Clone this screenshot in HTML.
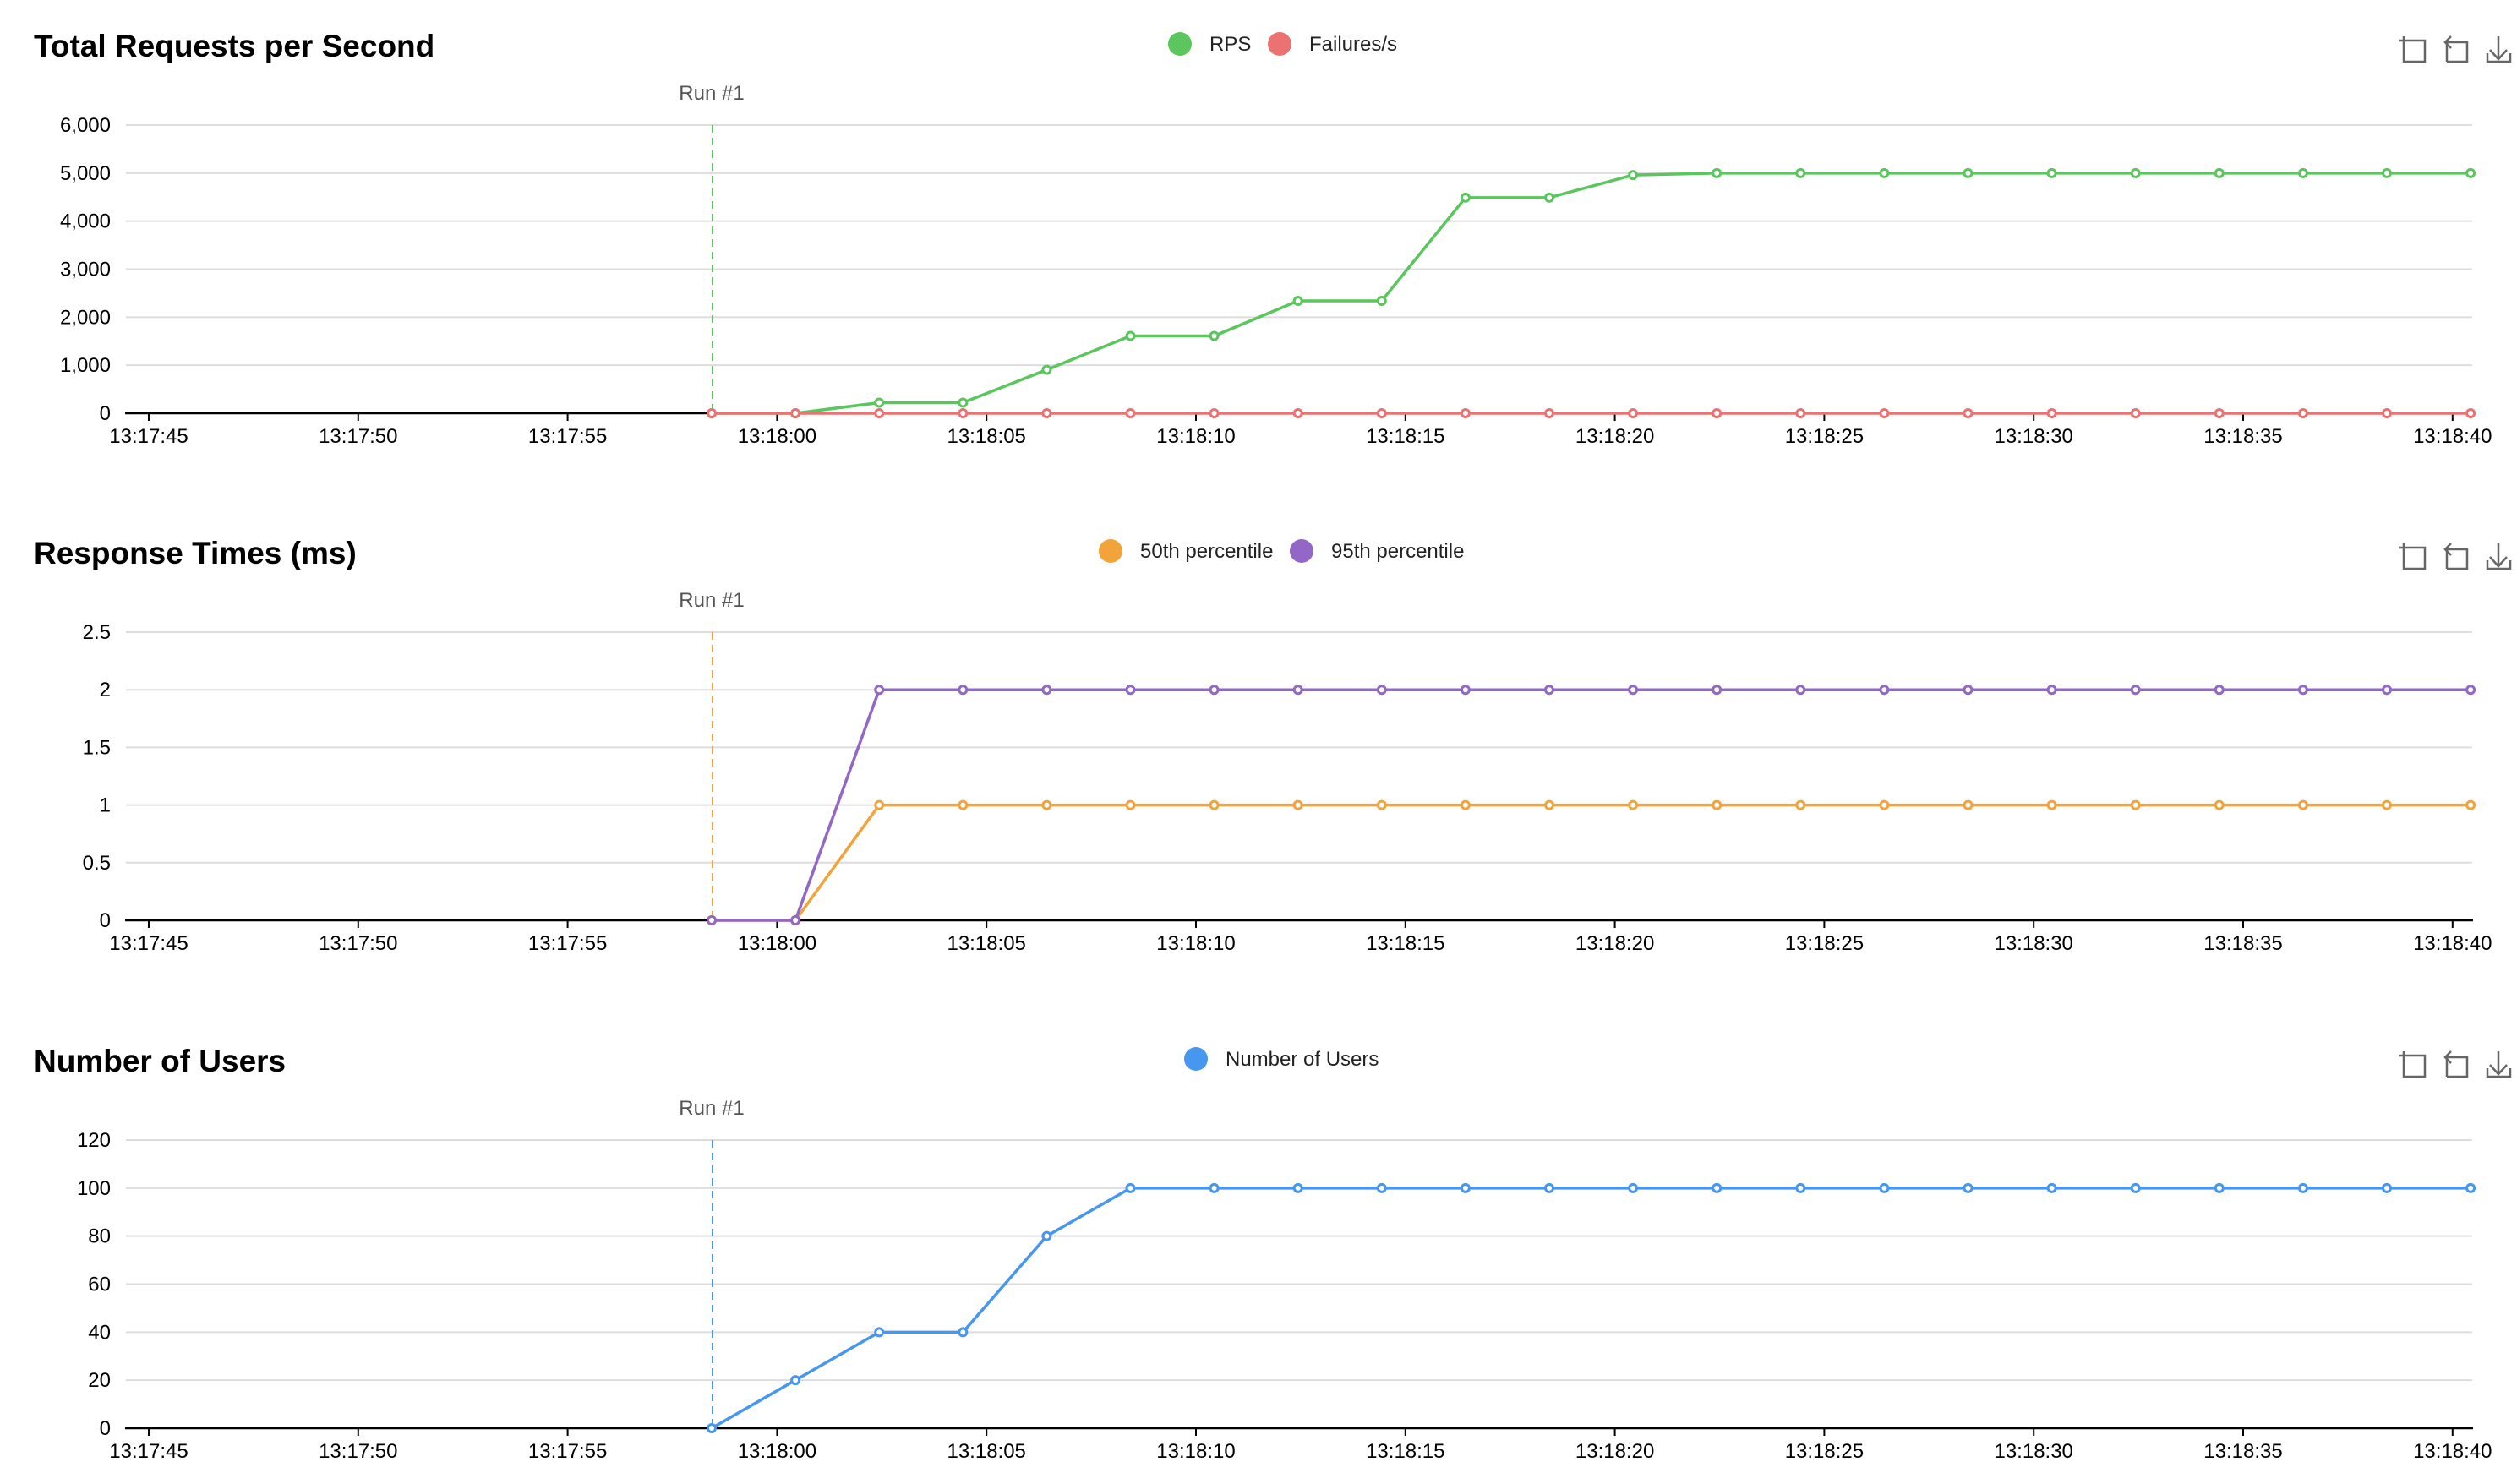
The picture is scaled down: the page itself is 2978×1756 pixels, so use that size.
<!DOCTYPE html>
<html><head><meta charset="utf-8"><style>
html,body{margin:0;padding:0;background:#fff;}
svg{display:block;}
text{font-family:"Liberation Sans",sans-serif;}
</style></head><body>
<svg id="s" width="2978" height="1756" xmlns="http://www.w3.org/2000/svg"></svg>
<script>
const s=document.getElementById('s');
let h='';
const X0=176, PX=49.56;
const P0=842, PS=99.1;
function chart(off,title,legend,ylabels,max,series,runColor){
  const top=148+off, bot=489+off, n=ylabels.length-1, sp=(bot-top)/n;
  h+=`<text x="40" y="${67+off}" font-size="37" font-weight="bold" fill="#000">${title}</text>`;
  legend.forEach(l=>{
    h+=`<circle cx="${l[0]}" cy="${52+off}" r="14" fill="${l[2]}"/>`;
    h+=`<text x="${l[0]+35}" y="${60+off}" font-size="24" fill="#222">${l[1]}</text>`;
  });
  const iy=43+off;
  h+=`<g stroke="#666" stroke-width="2.5" fill="none">
  <path d="M2844 ${iy} v30 h25 v-25 h-19 M2838 ${iy+5} h12"/>
  <path d="M2895 ${iy+30} v-23 h24 v23 h-24 M2893 ${iy+7} h10 M2900 ${iy} l-7 7 l7 7"/>
  <path d="M2943 ${iy+20} v10 h27 v-10 M2956 ${iy} v27 M2946 ${iy+16} l10 11 l10 -11"/></g>`;
  for(let i=0;i<n;i++){const y=top+i*sp;
    h+=`<line x1="149" x2="2925" y1="${y}" y2="${y}" stroke="#ddd" stroke-width="2"/>`;}
  for(let i=0;i<=n;i++){const y=bot-i*sp;
    h+=`<text x="131" y="${y+8}" font-size="24" text-anchor="end" fill="#000">${ylabels[i]}</text>`;}
  h+=`<line x1="148" x2="2926" y1="${bot}" y2="${bot}" stroke="#000" stroke-width="2.5"/>`;
  const tl=['13:17:45','13:17:50','13:17:55','13:18:00','13:18:05','13:18:10','13:18:15','13:18:20','13:18:25','13:18:30','13:18:35','13:18:40'];
  tl.forEach((t,i)=>{const x=X0+i*247.8;
    h+=`<line x1="${x}" x2="${x}" y1="${bot}" y2="${bot+9}" stroke="#000" stroke-width="2"/>`;
    h+=`<text x="${x}" y="${bot+35}" font-size="24" text-anchor="middle" fill="#000">${t}</text>`;});
  h+=`<line x1="${P0+1}" x2="${P0+1}" y1="${top}" y2="${bot}" stroke="${runColor}" stroke-width="2" stroke-dasharray="9,6"/>`;
  h+=`<text x="${P0}" y="${118+off}" font-size="24" text-anchor="middle" fill="#555">Run #1</text>`;
  series.forEach(se=>{
    const pts=se.d.map((v,k)=>[P0+k*PS, bot-v/max*(bot-top)]);
    h+=`<polyline fill="none" stroke="${se.c}" stroke-width="3.5" stroke-linejoin="round" points="${pts.map(p=>p.join(',')).join(' ')}"/>`;
    pts.forEach(p=>{h+=`<circle cx="${p[0]}" cy="${p[1]}" r="4.5" fill="#fff" stroke="${se.c}" stroke-width="3"/>`;});
  });
}
const rep=(v,n)=>Array(n).fill(v);
chart(0,'Total Requests per Second',[[1396,'RPS','#5bc65d'],[1514,'Failures/s','#ec7272']],
 ['0','1,000','2,000','3,000','4,000','5,000','6,000'],6000,
 [{c:'#5bc65d',d:[0,0,220,220,905,1610,1610,2340,2340,4490,4490,4960].concat(rep(5000,10))},
  {c:'#ec7272',d:rep(0,22)}],'#5bc65d');
chart(600,'Response Times (ms)',[[1314,'50th percentile','#f2a33a'],[1540,'95th percentile','#9367c6']],
 ['0','0.5','1','1.5','2','2.5'],2.5,
 [{c:'#f2a33a',d:[0,0].concat(rep(1,20))},{c:'#9367c6',d:[0,0].concat(rep(2,20))}],'#f2a33a');
chart(1201,'Number of Users',[[1415,'Number of Users','#4796f0']],
 ['0','20','40','60','80','100','120'],120,
 [{c:'#4796f0',d:[0,20,40,40,80].concat(rep(100,17))}],'#4796f0');
s.innerHTML=h;
</script>
</body></html>
